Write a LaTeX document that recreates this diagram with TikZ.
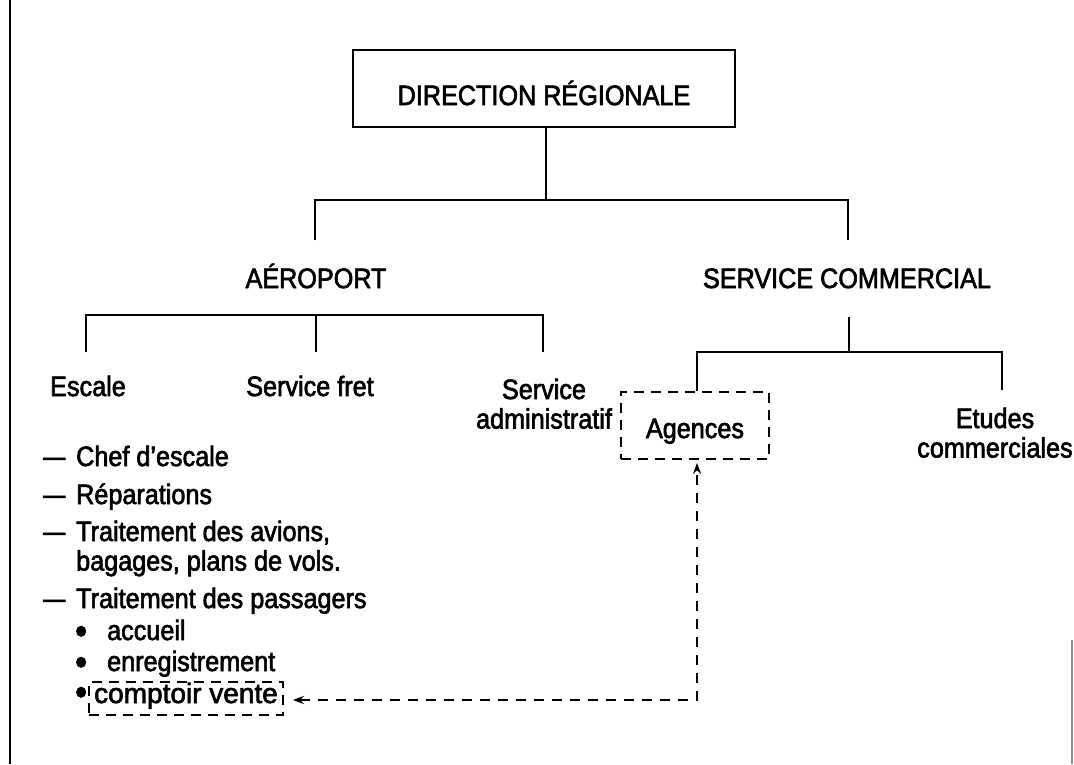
\documentclass[tikz,border=0pt]{standalone}
\usepackage{fontspec}
\setmainfont{Liberation Sans}[FakeStretch=0.9, FakeBold=2.2]
\usetikzlibrary{arrows.meta}
\newcommand{\listdash}{\makebox[33pt][l]{\scalebox{0.88}[1]{—}}}
\newcommand{\bigbullet}{\raisebox{-3.8pt}{\scalebox{1.35}{•}}}
\newcommand{\listbullet}{\makebox[32pt][l]{\bigbullet}}
\begin{document}
\begin{tikzpicture}[x=1pt,y=-1pt,
  every node/.style={inner sep=0pt, font=\fontsize{28}{29.5}\selectfont},
  lbl/.style={anchor=base},
  lbll/.style={anchor=base west},
  tree/.style={line width=1.8pt},
  boxed/.style={draw, line width=1.8pt},
  dashbox/.style={draw, line width=1.8pt, dash pattern=on 10pt off 7pt},
  dashlink/.style={line width=1.8pt, dash pattern=on 10pt off 8pt,
    {Stealth[length=11pt,width=8pt]}-{Stealth[length=11pt,width=8pt]}},
  border/.style={line width=1.5pt},
]
\fill[white] (0,0) rectangle (1074,764);
\useasboundingbox (0,0) rectangle (1074,764);

% borders
\draw[border] (10,0) -- (10,764);
\draw[border, black!45] (1072,640) -- (1072,764);

% top box
\node[boxed, minimum width=382pt, minimum height=77pt, text height=33pt, text depth=0pt]
  (dir) at (544,88.5) {DIRECTION RÉGIONALE};

% level 1
\node[lbl] (aero) at (316,288) {AÉROPORT};
\node[lbl] (comm) at (847,288) {SERVICE COMMERCIAL};

\coordinate (j0) at (546,200);
\coordinate (j0l) at (315,200);
\coordinate (j0r) at (848,200);
\coordinate (aeroTop) at (315,240);
\coordinate (commTop) at (848,240);
\draw[tree] (j0 |- dir.south) -- (j0);
\draw[tree] (aeroTop) -- (j0l) -- (j0r) -- (commTop);

% airport branch
\node[lbll] (escale) at (50,396) {Escale};
\node[lbl] (fret) at (310,396) {Service fret};
\node[lbl] (admin) at (544,399) {\begin{tabular}[t]{@{}c@{}}Service\\administratif\end{tabular}};

\coordinate (a1) at (86,315);
\coordinate (a2) at (316,315);
\coordinate (a3) at (543,315);
\coordinate (a1b) at (86,352);
\coordinate (a2b) at (316,352);
\coordinate (a3b) at (543,352);
\draw[tree] (a1b) -- (a1) -- (a3) -- (a3b);
\draw[tree] (a2) -- (a2b);

% commercial branch
\node[dashbox, minimum width=148pt, minimum height=67pt, text height=28pt, text depth=3pt]
  (agences) at (695,425.5) {Agences};
\node[lbl] (etudes) at (995,428) {\begin{tabular}[t]{@{}c@{}}Etudes\\commerciales\end{tabular}};

\coordinate (c0) at (849,317);
\coordinate (c0b) at (849,352);
\coordinate (c1) at (697,352);
\coordinate (c2) at (1002,352);
\coordinate (c2b) at (1002,390);
\draw[tree] (c0) -- (c0b);
\draw[tree] (c1 |- agences.north) -- (c1) -- (c2) -- (c2b);

% list under Escale
\node[lbll] (l1) at (43,466) {\listdash Chef d’escale};
\node[lbll] (l2) at (43,504) {\listdash Réparations};
\node[lbll] (l3) at (43,541) {\begin{tabular}[t]{@{}l@{}}\listdash Traitement des avions,\\\hspace{33pt}bagages, plans de vols.\end{tabular}};
\node[lbll] (l4) at (43,608) {\listdash Traitement des passagers};
\node[lbll] (b1) at (75,640) {\listbullet accueil};
\node[lbll] (b2) at (75,671) {\listbullet enregistrement};
\node[lbll] (b3) at (75,701) {\bigbullet};
\node[dashbox, anchor=base, minimum width=194pt, text height=21pt, text depth=12pt]
  (comptoir) at (186,703) {\addfontfeature{FakeStretch=1.0}comptoir vente};

% dashed link
\coordinate (corner) at (697,700);
\draw[dashlink, shorten <=9pt, shorten >=3pt]
  (comptoir.east |- corner) -- (corner) -- (corner |- agences.south);

\end{tikzpicture}
\end{document}
